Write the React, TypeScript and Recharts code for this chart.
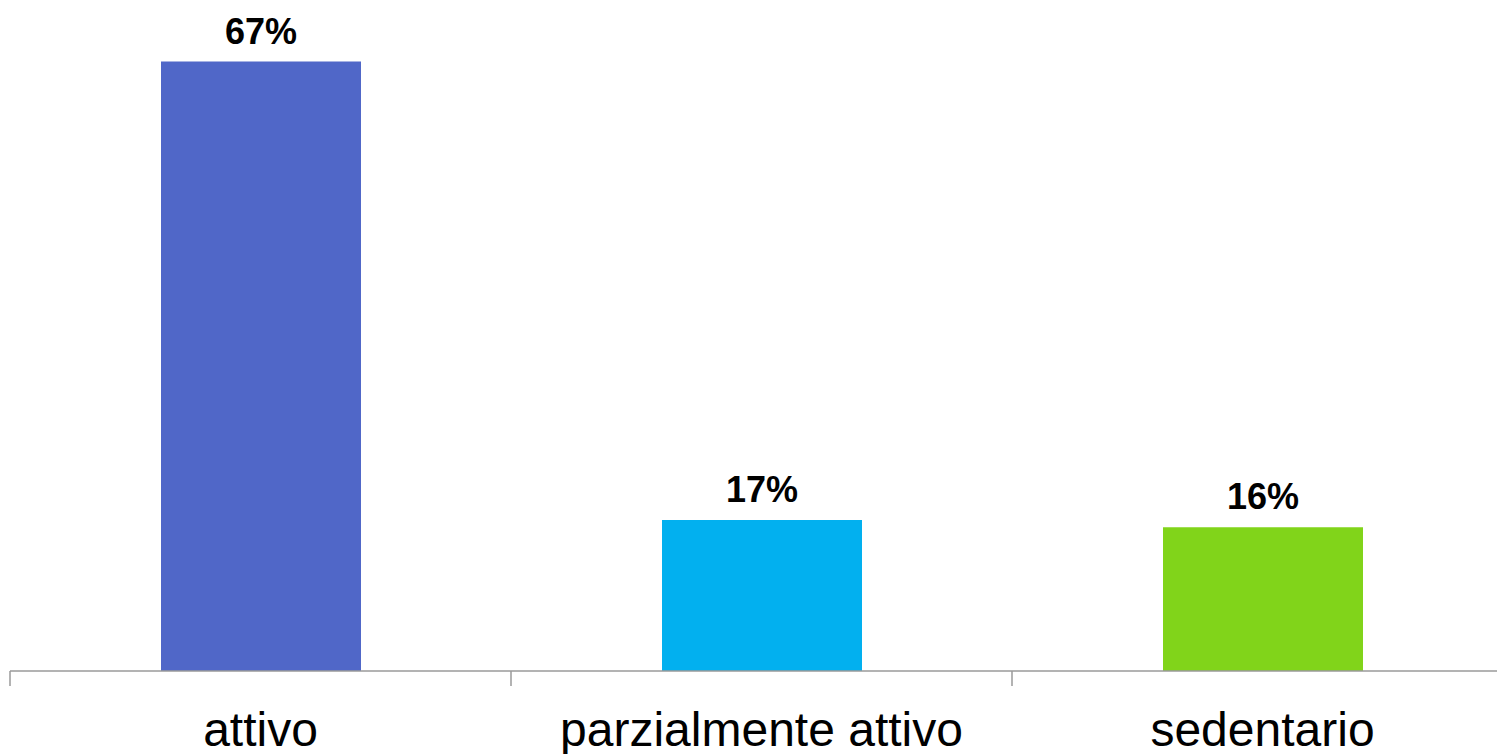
import { BarChart, Bar, XAxis, YAxis, Cell, LabelList } from "recharts";

const categories = ["attivo", "parzialmente attivo", "sedentario"];
const shares = [67.4, 16.7, 15.9];
const barColors = ["#5067C8", "#02B0EF", "#81D41A"];

const data = categories.map((name, i) => ({ name, value: shares[i] }));

const CHART_W = 1520;
const CHART_H = 754;
const MARGIN = { top: 38, right: 7, bottom: 0, left: 10 };
const BAND = (CHART_W - MARGIN.left - MARGIN.right) / categories.length;

const font = "'Liberation Sans', Arial, sans-serif";

const CategoryTick = ({ x, y, payload }: any) => (
  <g>
    <line x1={x - BAND / 2} x2={x - BAND / 2} y1={y} y2={y + 15} stroke="#9a9a9a" strokeWidth={1.5} />
    <text x={x} y={y + 75} textAnchor="middle" fontSize={48} fontFamily={font} fill="#000">
      {payload.value}
    </text>
  </g>
);

export default function App() {
  return (
    <div style={{ position: "fixed", left: 0, top: 0, width: 1497, height: 754, overflow: "hidden", background: "#fff" }}>
      <BarChart width={CHART_W} height={CHART_H} data={data} margin={MARGIN} barSize={200}>
        <XAxis
          dataKey="name"
          height={83}
          axisLine={{ stroke: "#9a9a9a", strokeWidth: 1.5 }}
          tickLine={false}
          tickSize={0}
          tickMargin={0}
          interval={0}
          tick={<CategoryTick />}
        />
        <YAxis hide domain={[0, 70]} />
        <Bar dataKey="value" isAnimationActive={false}>
          {data.map((d, i) => (
            <Cell key={d.name} fill={barColors[i]} />
          ))}
          <LabelList
            dataKey="value"
            position="top"
            offset={18}
            formatter={(v: any) => `${Math.round(v)}%`}
            style={{ fontFamily: font, fontSize: 36, fontWeight: 700, fill: "#000" }}
          />
        </Bar>
      </BarChart>
    </div>
  );
}
